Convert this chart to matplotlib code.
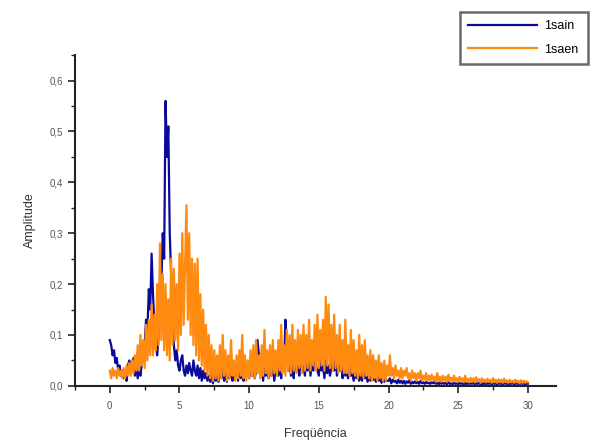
import numpy as np
import matplotlib
matplotlib.use('Agg')
import matplotlib.pyplot as plt
from matplotlib.ticker import MultipleLocator, FuncFormatter

plt.rcParams['font.family'] = ['Liberation Sans', 'DejaVu Sans']

# frequency grid of the spectrum (0 to 30, step 0.1)
freq = np.arange(301) * 0.1

# 1sain amplitudes, one row per unit of frequency
amp_1sain = [
    0.090, 0.080, 0.060, 0.070, 0.045, 0.055, 0.030, 0.040, 0.020, 0.030,
    0.015, 0.025, 0.010, 0.040, 0.050, 0.035, 0.045, 0.055, 0.020, 0.040,
    0.015, 0.030, 0.020, 0.045, 0.060, 0.080, 0.130, 0.110, 0.190, 0.150,
    0.260, 0.180, 0.120, 0.080, 0.060, 0.100, 0.150, 0.200, 0.300, 0.250,
    0.560, 0.450, 0.510, 0.300, 0.220, 0.120, 0.080, 0.050, 0.070, 0.040,
    0.030, 0.050, 0.060, 0.030, 0.020, 0.040, 0.025, 0.045, 0.030, 0.020,
    0.050, 0.030, 0.020, 0.040, 0.015, 0.035, 0.010, 0.030, 0.015, 0.025,
    0.010, 0.020, 0.008, 0.025, 0.005, 0.030, 0.010, 0.020, 0.008, 0.030,
    0.015, 0.040, 0.010, 0.025, 0.008, 0.030, 0.015, 0.045, 0.010, 0.030,
    0.020, 0.035, 0.010, 0.040, 0.015, 0.030, 0.010, 0.045, 0.020, 0.030,
    0.015, 0.040, 0.020, 0.050, 0.015, 0.030, 0.090, 0.060, 0.030, 0.040,
    0.010, 0.035, 0.020, 0.060, 0.015, 0.030, 0.020, 0.045, 0.010, 0.030,
    0.050, 0.020, 0.040, 0.015, 0.060, 0.030, 0.130, 0.090, 0.030, 0.050,
    0.020, 0.045, 0.015, 0.070, 0.030, 0.040, 0.020, 0.055, 0.030, 0.040,
    0.020, 0.050, 0.030, 0.060, 0.020, 0.045, 0.030, 0.070, 0.040, 0.030,
    0.020, 0.060, 0.030, 0.040, 0.015, 0.050, 0.025, 0.040, 0.020, 0.035,
    0.050, 0.030, 0.060, 0.020, 0.040, 0.030, 0.050, 0.015, 0.035, 0.020,
    0.030, 0.015, 0.040, 0.020, 0.025, 0.010, 0.030, 0.015, 0.020, 0.010,
    0.025, 0.010, 0.030, 0.015, 0.020, 0.008, 0.025, 0.010, 0.018, 0.012,
    0.015, 0.008, 0.020, 0.010, 0.015, 0.006, 0.018, 0.008, 0.012, 0.010,
    0.010, 0.015, 0.005, 0.012, 0.008, 0.010, 0.005, 0.012, 0.006, 0.010,
    0.005, 0.010, 0.004, 0.009, 0.006, 0.011, 0.004, 0.008, 0.005, 0.009,
    0.005, 0.008, 0.004, 0.010, 0.005, 0.007, 0.004, 0.008, 0.005, 0.006,
    0.004, 0.007, 0.005, 0.008, 0.004, 0.006, 0.003, 0.007, 0.004, 0.006,
    0.004, 0.006, 0.003, 0.007, 0.004, 0.005, 0.003, 0.006, 0.004, 0.005,
    0.003, 0.006, 0.004, 0.005, 0.003, 0.006, 0.003, 0.005, 0.004, 0.005,
    0.004, 0.006, 0.003, 0.005, 0.004, 0.006, 0.003, 0.005, 0.003, 0.006,
    0.003, 0.005, 0.004, 0.006, 0.003, 0.005, 0.004, 0.005, 0.003, 0.006,
    0.004, 0.005, 0.003, 0.006, 0.004, 0.005, 0.003, 0.005, 0.004, 0.006,
    0.003, 0.005, 0.004, 0.005, 0.003, 0.006, 0.004, 0.005, 0.003, 0.005,
    0.004,
]

# 1saen amplitudes, one row per unit of frequency
amp_1saen = [
    0.030, 0.015, 0.035, 0.020, 0.030, 0.015, 0.035, 0.020, 0.030, 0.015,
    0.035, 0.015, 0.040, 0.020, 0.045, 0.020, 0.050, 0.025, 0.060, 0.030,
    0.080, 0.030, 0.100, 0.040, 0.090, 0.035, 0.120, 0.050, 0.130, 0.060,
    0.160, 0.060, 0.140, 0.070, 0.200, 0.080, 0.280, 0.090, 0.220, 0.070,
    0.200, 0.060, 0.170, 0.050, 0.250, 0.080, 0.230, 0.090, 0.200, 0.070,
    0.260, 0.100, 0.300, 0.120, 0.240, 0.355, 0.130, 0.300, 0.100, 0.250,
    0.080, 0.240, 0.060, 0.250, 0.050, 0.180, 0.040, 0.150, 0.030, 0.120,
    0.020, 0.100, 0.015, 0.080, 0.010, 0.070, 0.015, 0.060, 0.010, 0.080,
    0.015, 0.100, 0.020, 0.070, 0.010, 0.060, 0.015, 0.090, 0.020, 0.050,
    0.010, 0.060, 0.015, 0.070, 0.020, 0.100, 0.015, 0.060, 0.010, 0.050,
    0.015, 0.070, 0.020, 0.080, 0.015, 0.090, 0.025, 0.060, 0.015, 0.080,
    0.020, 0.110, 0.025, 0.070, 0.015, 0.080, 0.020, 0.090, 0.025, 0.070,
    0.020, 0.090, 0.030, 0.120, 0.025, 0.080, 0.020, 0.110, 0.030, 0.100,
    0.025, 0.120, 0.030, 0.090, 0.025, 0.110, 0.035, 0.100, 0.025, 0.120,
    0.030, 0.100, 0.035, 0.130, 0.030, 0.090, 0.040, 0.120, 0.030, 0.140,
    0.035, 0.110, 0.040, 0.130, 0.030, 0.175, 0.040, 0.160, 0.035, 0.120,
    0.030, 0.140, 0.035, 0.100, 0.025, 0.120, 0.030, 0.090, 0.025, 0.130,
    0.025, 0.080, 0.020, 0.110, 0.025, 0.090, 0.020, 0.070, 0.015, 0.100,
    0.020, 0.080, 0.015, 0.090, 0.020, 0.060, 0.015, 0.070, 0.010, 0.060,
    0.015, 0.050, 0.010, 0.060, 0.015, 0.045, 0.010, 0.050, 0.010, 0.040,
    0.020, 0.060, 0.020, 0.035, 0.015, 0.040, 0.020, 0.030, 0.015, 0.035,
    0.015, 0.030, 0.020, 0.035, 0.015, 0.025, 0.010, 0.030, 0.015, 0.025,
    0.010, 0.025, 0.015, 0.030, 0.010, 0.020, 0.012, 0.025, 0.010, 0.020,
    0.010, 0.022, 0.012, 0.018, 0.008, 0.025, 0.010, 0.018, 0.008, 0.020,
    0.010, 0.018, 0.008, 0.022, 0.010, 0.016, 0.008, 0.020, 0.010, 0.015,
    0.008, 0.018, 0.010, 0.015, 0.007, 0.020, 0.009, 0.014, 0.007, 0.016,
    0.008, 0.015, 0.007, 0.017, 0.009, 0.013, 0.006, 0.015, 0.008, 0.012,
    0.007, 0.014, 0.008, 0.012, 0.006, 0.015, 0.007, 0.012, 0.006, 0.013,
    0.007, 0.012, 0.006, 0.014, 0.007, 0.011, 0.006, 0.012, 0.007, 0.010,
    0.006, 0.012, 0.007, 0.010, 0.005, 0.011, 0.006, 0.010, 0.006, 0.009,
    0.007,
]

fig = plt.figure(figsize=(5.95, 4.41), dpi=100)
ax = fig.add_axes([0.126, 0.125, 0.808, 0.75])

ax.plot(freq, amp_1sain, color='#0a0a9a', lw=1.6, label='1sain')
ax.plot(freq, amp_1saen, color='#ff8a10', lw=1.6, label='1saen')

ax.set_xlim(-2.5, 32)
ax.set_ylim(0, 0.65)
ax.xaxis.set_major_locator(MultipleLocator(5))
ax.xaxis.set_minor_locator(MultipleLocator(2.5))
ax.yaxis.set_major_locator(MultipleLocator(0.1))
ax.yaxis.set_minor_locator(MultipleLocator(0.05))
ax.yaxis.set_major_formatter(FuncFormatter(lambda v, p: f'{v:.1f}'.replace('.', ',')))

for s in ['top', 'right']:
    ax.spines[s].set_visible(False)
for s in ['left', 'bottom']:
    ax.spines[s].set_linewidth(1.5)
    ax.spines[s].set_color('#222222')
ax.tick_params(which='major', direction='out', length=5, width=1.2, labelsize=7,
               colors='#222222', labelcolor='#555555')
ax.tick_params(axis='x', which='major', pad=6)
ax.tick_params(which='minor', direction='out', length=3, width=1.0, colors='#222222')

ax.set_xlabel('Freqüência', fontsize=9, color='#333333', labelpad=12)
ax.set_ylabel('Amplitude', fontsize=9, color='#333333', labelpad=10)

leg = fig.legend(loc='upper right', bbox_to_anchor=(0.998, 0.988), fontsize=9,
                 fancybox=False, edgecolor='#444444', handlelength=5.5,
                 borderpad=0.7, labelspacing=0.9, handletextpad=0.6)
leg.get_frame().set_linewidth(1.8)

fig.savefig('out.png', dpi=100)
